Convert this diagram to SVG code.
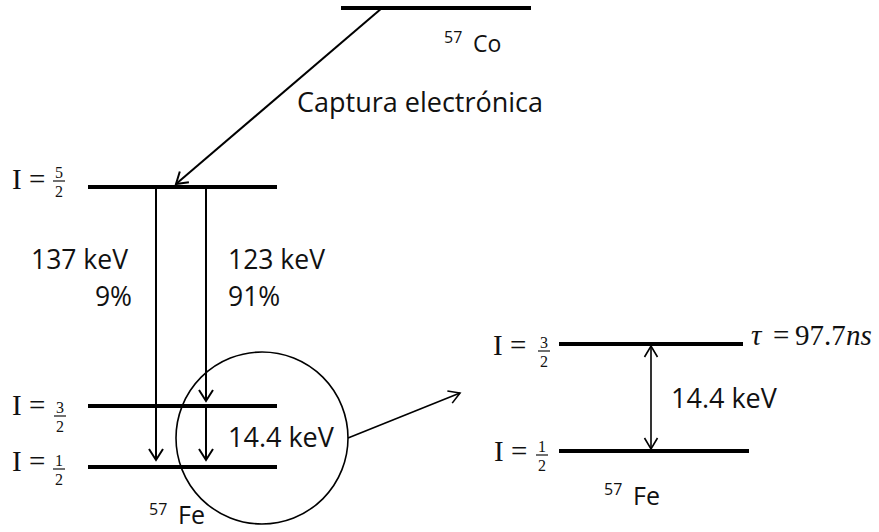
<svg xmlns="http://www.w3.org/2000/svg" width="879" height="532" viewBox="0 0 879 532">
<style>
.lvl{stroke:#000;stroke-width:4;fill:none}
.arr{stroke:#000;stroke-width:2;fill:none}
.thin{stroke:#000;stroke-width:1.6;fill:none}
.t{font-family:"Open Sans","Liberation Sans",sans-serif;fill:#111}
.m{font-family:"Liberation Serif","Times New Roman",serif;fill:#111}
.fr{font-family:"Liberation Serif","Times New Roman",serif;fill:#111;font-size:16px;text-anchor:middle}
.bar{stroke:#111;stroke-width:1.2}
</style>
<defs>
<marker id="ah" markerUnits="userSpaceOnUse" viewBox="0 0 14 16" refX="12" refY="8" markerWidth="14" markerHeight="16" orient="auto-start-reverse">
<path d="M1,1 L12,8 L1,15" fill="none" stroke="#000" stroke-width="2"/>
</marker>
<marker id="ah2" markerUnits="userSpaceOnUse" viewBox="0 0 14 16" refX="12" refY="8" markerWidth="14" markerHeight="16" orient="auto-start-reverse">
<path d="M1,1.5 L12,8 L1,14.5" fill="none" stroke="#000" stroke-width="1.6"/>
</marker>
</defs>
<rect width="879" height="532" fill="#fff"/>

<g id="co57">
<line class="lvl" x1="341" y1="8" x2="531" y2="8"/>
<text class="t" x="444" y="43" font-size="16">57</text>
<text class="t" x="473" y="52" font-size="23">Co</text>
</g>

<g id="level-5-2">
<line class="lvl" x1="88" y1="187" x2="277" y2="187"/>
<text class="m" x="12" y="189" font-size="29">I =</text>
<text class="fr" x="59" y="178">5</text>
<line class="bar" x1="53" y1="181" x2="65" y2="181"/>
<text class="fr" x="59" y="197">2</text>
</g>

<g id="level-3-2">
<line class="lvl" x1="88" y1="406" x2="277" y2="406"/>
<text class="m" x="12" y="415" font-size="29">I =</text>
<text class="fr" x="60" y="413">3</text>
<line class="bar" x1="54" y1="416" x2="66" y2="416"/>
<text class="fr" x="60" y="432">2</text>
</g>

<g id="level-1-2">
<line class="lvl" x1="88" y1="467" x2="277" y2="467"/>
<text class="m" x="12" y="471" font-size="29">I =</text>
<text class="fr" x="59" y="466">1</text>
<line class="bar" x1="53" y1="469" x2="65" y2="469"/>
<text class="fr" x="59" y="485">2</text>
</g>

<g id="fe57-left">
<text class="t" x="149" y="515" font-size="16">57</text>
<text class="t" x="178" y="524" font-size="25">Fe</text>
</g>

<g id="zoom-circle">
<circle cx="262" cy="438" r="86" class="thin"/>
<text class="t" x="228" y="447" font-size="27">14.4 keV</text>
</g>

<g id="level-r-3-2">
<line class="lvl" x1="559" y1="344" x2="743" y2="344"/>
<text class="m" x="493" y="355" font-size="29">I =</text>
<text class="fr" x="544" y="348">3</text>
<line class="bar" x1="538" y1="351" x2="550" y2="351"/>
<text class="fr" x="544" y="367">2</text>
<text class="m" x="751" y="345" font-size="29" font-style="italic">τ</text>
<text class="m" x="773" y="345" font-size="29">=</text>
<text class="m" x="795" y="345" font-size="29">97.7</text>
<text class="m" x="846" y="345" font-size="29" font-style="italic">ns</text>
</g>

<g id="level-r-1-2">
<line class="lvl" x1="559" y1="451" x2="749" y2="451"/>
<text class="m" x="494" y="461" font-size="29">I =</text>
<text class="fr" x="542" y="452">1</text>
<line class="bar" x1="536" y1="455" x2="548" y2="455"/>
<text class="fr" x="542" y="471">2</text>
</g>

<g id="fe57-right">
<text class="t" x="604" y="495" font-size="16">57</text>
<text class="t" x="633" y="505" font-size="25">Fe</text>
</g>

<g id="labels">
<text class="t" x="297" y="112" font-size="27">Captura electrónica</text>
<text class="t" x="31" y="269" font-size="26.5">137 keV</text>
<text class="t" x="132" y="306" font-size="26.5" text-anchor="end">9%</text>
<text class="t" x="228" y="269" font-size="26.5">123 keV</text>
<text class="t" x="228" y="306" font-size="26.5">91%</text>
<text class="t" x="671" y="408" font-size="27">14.4 keV</text>
</g>

<g id="connectors">
<line class="arr" x1="382" y1="8" x2="176" y2="184" marker-end="url(#ah)"/>
<line class="arr" x1="156" y1="189" x2="156" y2="460" marker-end="url(#ah)"/>
<line class="arr" x1="206" y1="189" x2="206" y2="401" marker-end="url(#ah)"/>
<line class="arr" x1="206" y1="406" x2="206" y2="460" marker-end="url(#ah)"/>
<line class="thin" x1="348" y1="438" x2="460" y2="393" marker-end="url(#ah2)"/>
<line class="thin" x1="651" y1="346" x2="651" y2="449" marker-start="url(#ah2)" marker-end="url(#ah2)"/>
</g>
</svg>
